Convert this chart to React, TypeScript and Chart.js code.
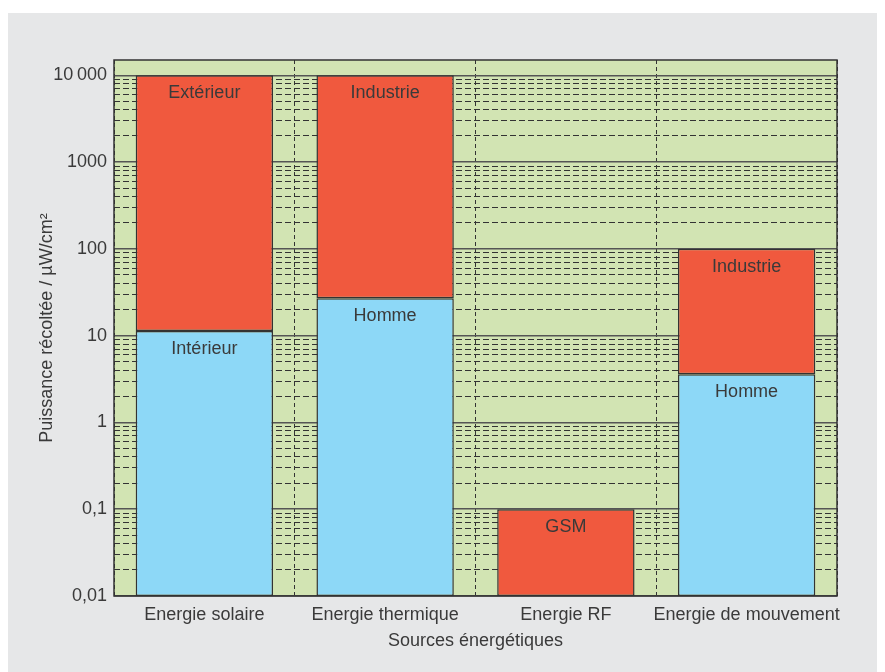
import React, { useEffect, useRef } from "react";
import { Chart, registerables } from "chart.js";

Chart.register(...registerables);

const categories = ["Energie solaire", "Energie thermique", "Energie RF", "Energie de mouvement"];
// Lower (blue) segment top values; null = no lower segment
const lowerValues: (number | null)[] = [11.3, 27, null, 3.6];
// Upper (red) segment top values
const upperValues: number[] = [10000, 10000, 0.1, 100];
const lowerLabels = ["Intérieur", "Homme", "", "Homme"];
const upperLabels = ["Extérieur", "Industrie", "GSM", "Industrie"];
const axisMin = 0.01;
const axisMax = 15000;
const decadeTicks = [0.01, 0.1, 1, 10, 100, 1000, 10000];
const decadeLabels = ["0,01", "0,1", "1", "10", "100", "1000", "10\u2009000"];

const FONT = "'Liberation Sans', Arial, sans-serif";
const TEXT = "#3a3a3a";
const FS = 18;

export default function App() {
  const ref = useRef<HTMLCanvasElement | null>(null);

  useEffect(() => {
    if (!ref.current) return;
    const lowerData = lowerValues.map((v) => (v == null ? null : [axisMin, v]));
    const upperData = upperValues.map((v, i) => [lowerValues[i] ?? axisMin, v]);

    const isDecade = (v: number) => decadeTicks.some((d) => Math.abs(d - v) / d < 1e-6);

    const bgPlugin = {
      id: "plotBg",
      beforeDraw(chart: any) {
        const { ctx, chartArea: a } = chart;
        ctx.save();
        ctx.fillStyle = "#d2e4b3";
        ctx.fillRect(a.left, a.top, a.right - a.left, a.bottom - a.top);
        ctx.restore();
      },
      afterDatasetsDraw(chart: any) {
        const { ctx, chartArea: a } = chart;
        ctx.save();
        ctx.strokeStyle = "#333";
        ctx.lineWidth = 1.5;
        ctx.strokeRect(a.left, a.top, a.right - a.left, a.bottom - a.top);
        // labels
        ctx.fillStyle = TEXT;
        ctx.font = `${FS}px ${FONT}`;
        ctx.textAlign = "center";
        ctx.textBaseline = "middle";
        const sets = [lowerLabels, upperLabels];
        chart.data.datasets.forEach((ds: any, di: number) => {
          const meta = chart.getDatasetMeta(di);
          meta.data.forEach((el: any, i: number) => {
            const txt = sets[di][i];
            if (!txt || ds.data[i] == null) return;
            const top = Math.min(el.y, el.base);
            ctx.fillText(txt, el.x, top + 18);
          });
        });
        ctx.restore();
      },
    };

    const chart = new Chart(ref.current, {
      type: "bar",
      data: {
        labels: categories,
        datasets: [
          {
            label: "bas",
            data: lowerData as any,
            backgroundColor: "#8dd8f7",
            borderColor: "#333",
            borderWidth: 1.5,
            borderSkipped: false,
            grouped: false,
            barPercentage: 0.76,
            categoryPercentage: 1,
          },
          {
            label: "haut",
            data: upperData as any,
            backgroundColor: "#f0593e",
            borderColor: "#333",
            borderWidth: 1.5,
            borderSkipped: false,
            grouped: false,
            barPercentage: 0.76,
            categoryPercentage: 1,
          },
        ],
      },
      options: {
        responsive: false,
        animation: false,
        layout: { padding: { top: 47, right: 46, left: 0, bottom: 0 } },
        plugins: { legend: { display: false }, tooltip: { enabled: false } },
        scales: {
          x: {
            offset: true,
            grid: {
              offset: true,
              color: "#333",
              lineWidth: 1,
              drawTicks: false,
            },
            border: { display: false, dash: [4, 3] },
            ticks: {
              color: TEXT,
              font: { family: FONT, size: FS },
              padding: 8,
              maxRotation: 0,
              minRotation: 0,
              autoSkip: false,
            },
            title: {
              display: true,
              text: "Sources énergétiques",
              color: TEXT,
              font: { family: FONT, size: FS },
              padding: { top: 0, bottom: 20 },
            },
            afterFit(scale: any) {
              scale.height = 76;
            },
          },
          y: {
            type: "logarithmic",
            min: axisMin,
            max: axisMax,
            afterBuildTicks(scale: any) {
              const arr: any[] = [];
              for (let k = -2; k <= 3; k++) {
                for (let m = 1; m <= 9; m++) {
                  arr.push({ value: +(m * Math.pow(10, k)).toPrecision(6) });
                }
              }
              arr.push({ value: 10000 });
              scale.ticks = arr;
            },
            grid: {
              drawTicks: false,
              color: (c: any) => (c.tick && isDecade(c.tick.value) ? "#555" : "#333"),
              lineWidth: (c: any) => (c.tick && isDecade(c.tick.value) ? 1.5 : 1),
            },
            border: {
              display: false,
              dash: (c: any) => (c.tick && isDecade(c.tick.value) ? [] : [6, 3]),
            } as any,
            ticks: {
              autoSkip: false,
              color: TEXT,
              font: { family: FONT, size: FS },
              padding: 7,
              callback: (value: any) => {
                const idx = decadeTicks.findIndex((d) => Math.abs(d - value) / d < 1e-6);
                return idx >= 0 ? decadeLabels[idx] : "";
              },
            },
            title: {
              display: true,
              text: "Puissance récoltée / µW/cm²",
              color: TEXT,
              font: { family: FONT, size: FS },
              padding: { top: 28, bottom: 0 },
            },
            afterFit(scale: any) {
              scale.width = 106;
            },
          },
        },
      },
      plugins: [bgPlugin],
    });
    return () => chart.destroy();
  }, []);

  return (
    <div style={{ paddingTop: 5 }}>
      <div style={{ width: 875, height: 659, background: "#e6e7e8" }}>
        <canvas ref={ref} width={875} height={659} style={{ display: "block", width: 875, height: 659 }} />
      </div>
    </div>
  );
}
